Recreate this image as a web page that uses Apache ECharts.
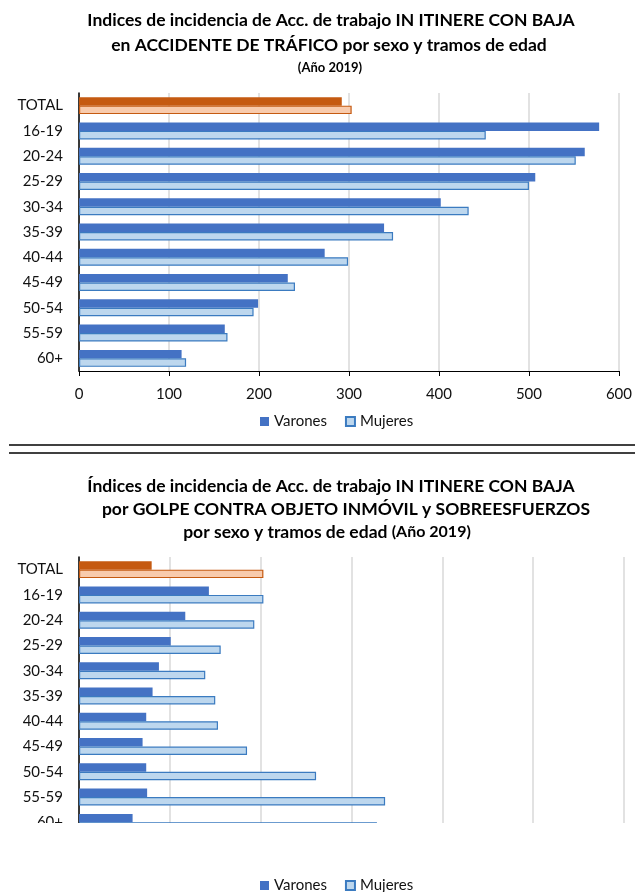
<!DOCTYPE html>
<html>
<head>
<meta charset="utf-8">
<script src="https://cdn.jsdelivr.net/npm/echarts@6/dist/echarts.min.js"></script>
<style>
html,body{margin:0;padding:0;background:#fff;}
#container{width:635px;height:892px;}
</style>
</head>
<body>
<div id="container"></div>
<script>
// categorias (tramos de edad)
var tramos = ['TOTAL', '16-19', '20-24', '25-29', '30-34', '35-39', '40-44', '45-49', '50-54', '55-59', '60+'];

// grafico 1: accidente de trafico
var traficoVarones = [292, 578, 562, 507, 402, 339, 273, 232, 199, 162, 114];
var traficoMujeres = [303, 452, 552, 500, 433, 349, 299, 240, 194, 165, 119];
var ticksTrafico = [0, 100, 200, 300, 400, 500, 600];

// grafico 2: golpe contra objeto inmovil y sobreesfuerzos
var golpeVarones = [8.0, 14.3, 11.7, 10.1, 8.8, 8.1, 7.4, 7.0, 7.4, 7.5, 5.9];
var golpeMujeres = [20.3, 20.3, 19.3, 15.6, 13.9, 15.0, 15.3, 18.5, 26.1, 33.7, 32.8];
var ticksGolpe = [0, 10, 20, 30, 40, 50, 60];

var FONT = 'Lato';
var azul = '#4472C4', azulClaro = '#BDD7EE', bordeAzul = '#3B7BC0';
var naranja = '#C55A11', naranjaClaro = '#F8CBAD';

function pintar(valores, esMujer) {
	var res = [];
	for (var i = 0; i < valores.length; i++) {
		var item = { value: valores[i] };
		if (tramos[i] == 'TOTAL') {
			item.itemStyle = esMujer ? { color: naranjaClaro, borderColor: naranja, borderWidth: 1.2 } : { color: naranja };
		}
		res.push(item);
	}
	return res;
}

function ejeX(idx, ticks, conEtiquetas) {
	return {
		type: 'value',
		gridIndex: idx,
		min: ticks[0],
		max: ticks[ticks.length - 1],
		interval: ticks[1] - ticks[0],
		axisLine: { show: true, lineStyle: { color: '#000', width: 1 } },
		axisTick: { show: conEtiquetas, length: 5, lineStyle: { color: '#000' } },
		axisLabel: { show: conEtiquetas, fontFamily: FONT, fontSize: 15, color: '#111', margin: 16 },
		splitLine: { show: true, lineStyle: { color: '#D9D9D9', width: 1.5 } }
	};
}

function ejeY(idx) {
	return {
		type: 'category',
		gridIndex: idx,
		data: tramos,
		inverse: true,
		axisLine: { show: true, lineStyle: { color: '#000', width: 1.5 } },
		axisTick: { show: false },
		axisLabel: { fontFamily: FONT, fontSize: 15, color: '#111', margin: 16 }
	};
}

function serie(nombre, idx, valores, esMujer) {
	return {
		name: nombre,
		type: 'bar',
		xAxisIndex: idx,
		yAxisIndex: idx,
		barGap: '0%',
		barCategoryGap: '33%',
		itemStyle: esMujer ? { color: azulClaro, borderColor: bordeAzul, borderWidth: 1.2 } : { color: azul },
		data: pintar(valores, esMujer)
	};
}

function leyenda(top) {
	return {
		top: top,
		left: 255,
		itemWidth: 9,
		itemHeight: 9,
		itemGap: 18,
		icon: 'rect',
		data: ['Varones', 'Mujeres'],
		textStyle: { fontFamily: FONT, fontSize: 15, color: '#111' }
	};
}

// una linea de titulo centrada en (cx, cy)
function linea(texto, cx, cy) {
	return {
		text: texto,
		left: cx, top: cy - 11, textAlign: 'center', padding: 0,
		textStyle: {
			rich: {
				a: { fontFamily: FONT, fontSize: 17.5, fontWeight: 'bold', color: '#000', lineHeight: 22 },
				b: { fontFamily: FONT, fontSize: 13, fontWeight: 'bold', color: '#000', lineHeight: 22 },
				c: { fontFamily: FONT, fontSize: 16, fontWeight: 'bold', color: '#000', lineHeight: 22 }
			}
		}
	};
}

var dom = document.getElementById('container');
var myChart = echarts.init(dom);
var option = {
	animation: false,
	backgroundColor: '#fff',
	title: [
		linea('{a|Indices de incidencia de Acc. de trabajo IN ITINERE CON BAJA}', 331, 20),
		linea('{a|en ACCIDENTE DE TRÁFICO por sexo y tramos de edad}', 329, 45),
		linea('{b|(Año 2019)}', 330, 68),
		linea('{a|Índices de incidencia de Acc. de trabajo IN ITINERE CON BAJA}', 331, 486),
		linea('{a|por GOLPE CONTRA OBJETO INMÓVIL y SOBREESFUERZOS}', 346, 509),
		linea('{a|por sexo y tramos de edad }{c|(Año 2019)}', 327, 532)
	],
	legend: [leyenda(409), leyenda(873)],
	grid: [
		{ left: 79, right: 11, top: 93, height: 278 },
		{ left: 79, right: 11, top: 557, height: 278 }
	],
	xAxis: [ejeX(0, ticksTrafico, true), ejeX(1, ticksGolpe, false)],
	yAxis: [ejeY(0), ejeY(1)],
	series: [
		serie('Varones', 0, traficoVarones, false),
		serie('Mujeres', 0, traficoMujeres, true),
		serie('Varones', 1, golpeVarones, false),
		serie('Mujeres', 1, golpeMujeres, true)
	],
	graphic: [
		{ type: 'line', shape: { x1: 9, y1: 445, x2: 635, y2: 445 }, style: { stroke: '#404040', lineWidth: 2 } },
		{ type: 'line', shape: { x1: 9, y1: 453, x2: 635, y2: 453 }, style: { stroke: '#404040', lineWidth: 2 } },
		// el grafico original aparece recortado por debajo
		{ type: 'rect', z: 100, shape: { x: 0, y: 823, width: 635, height: 48 }, style: { fill: '#fff' } }
	]
};
if (option && typeof option === "object") {
	myChart.setOption(option, true);
}
</script>
</body>
</html>
